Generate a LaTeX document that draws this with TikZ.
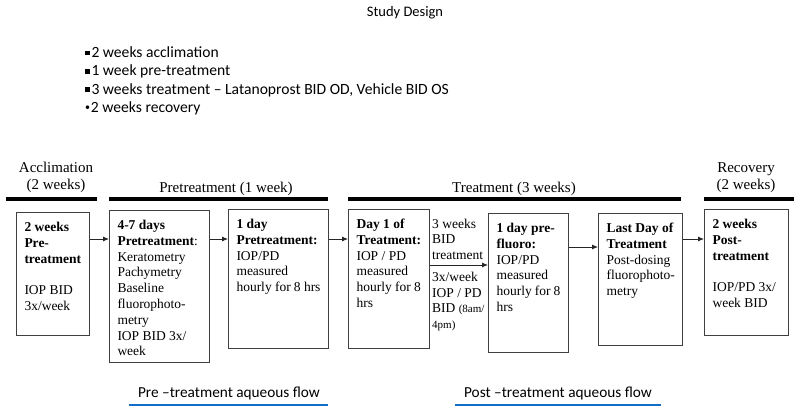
\documentclass[tikz,border=0pt]{standalone}
\usepackage{fontspec}
\setmainfont{Liberation Serif}
\newfontfamily\calfont{Carlito}
\usetikzlibrary{arrows.meta}
\newcommand{\bxt}[3]{\parbox[t][\dimexpr#2pt-16pt\relax][t]{\dimexpr#1pt-16pt\relax}{\raggedright\strut #3}}
\newcommand{\sqb}{\rule[2pt]{4.8pt}{4.8pt}\hspace{1.5pt}}
\definecolor{flowblue}{RGB}{20,110,200}
\begin{document}
\begin{tikzpicture}[x=1pt,y=-1pt,
  bx/.style={draw=black!75, line width=1pt, anchor=north west, inner xsep=8pt, inner ysep=8pt,
    font=\fontsize{13.5}{15.8}\selectfont},
  btxt/.style={anchor=base west, inner sep=0pt, font=\fontsize{13.5}{15.5}\selectfont},
  hdr/.style={anchor=base, inner sep=0pt, font=\fontsize{15}{17}\selectfont},
  bar/.style={line width=3.5pt, black},
  arr/.style={-{Latex[length=6pt,width=5pt]}, line width=0.8pt, black!85},
  cal/.style={inner sep=0pt, font=\calfont\fontsize{14.5}{18.3}\selectfont},
  lst/.style={inner sep=0pt, font=\calfont\fontsize{15.6}{18.3}\selectfont},
  flow/.style={inner sep=0pt, anchor=base, font=\calfont\fontsize{15.3}{18}\selectfont},
  blueline/.style={line width=2.5pt, flowblue}]
\useasboundingbox (0,0) rectangle (800,417);
\fill[white] (0,0) rectangle (800,417);

% title and list
\node[cal, anchor=base] (title) at (405,16.5) {Study Design};
\node[lst, anchor=base west] (list) at (85,57.5) {\parbox[t]{440pt}{%
\sqb 2 weeks acclimation\\
\sqb 1 week pre-treatment\\
\sqb 3 weeks treatment – Latanoprost BID OD, Vehicle BID OS\\
\hspace{0.5pt}\raisebox{1.8pt}{\fontsize{10}{10}\selectfont•}\hspace{0.8pt}2 weeks recovery}};

% headers
\node[hdr] (h1) at (56,172) {\parbox[t]{100pt}{\centering Acclimation\\(2 weeks)}};
\node[hdr] (h2) at (226,192) {Pretreatment (1 week)};
\node[hdr] (h3) at (514,192) {Treatment (3 weeks)};
\node[hdr] (h4) at (746,172) {\parbox[t]{100pt}{\centering Recovery\\(2 weeks)}};
\draw[bar] (6,199) -- (97,199);
\draw[bar] (109,199) -- (328,199);
\draw[bar] (348,199) -- (681,199);
\draw[bar] (704,199) -- (794,199);

% boxes
\node[bx] (b1) at (16,212) {\bxt{73}{123}{\textbf{2 weeks\\\mbox{Pre-}\\treatment}\\[15.8pt]IOP BID\\3x/week}};
\node[bx] (b2) at (109,210) {\bxt{100}{152}{\textbf{4-7 days\\Pretreatment}:\\Keratometry\\Pachymetry\\Baseline\\\mbox{fluorophoto-}\\metry\\IOP BID 3x/\\week}};
\node[bx] (b3) at (228,209) {\bxt{100}{139}{\textbf{1 day\\Pretreatment:}\\IOP/PD\\measured\\hourly for 8 hrs}};
\node[bx] (b4) at (348,209) {\bxt{81}{139}{\textbf{Day 1 of\\Treatment:}\\IOP / PD\\measured\\hourly for 8\\hrs}};
\node[bx] (b5) at (488,213) {\bxt{80}{139}{\textbf{1 day \mbox{pre-}\\fluoro:}\\IOP/PD\\measured\\hourly for 8\\hrs}};
\node[bx] (b6) at (598,213) {\bxt{84}{132}{\textbf{Last Day of\\Treatment}\\Post-dosing\\\mbox{fluorophoto-}\\metry}};
\node[bx] (b7) at (704,209) {\bxt{84}{126}{\textbf{2 weeks\\\mbox{Post-}\\treatment}\\[15.8pt]IOP/PD 3x/\\week BID}};

% between texts
\node[btxt] (t1) at (432,228) {\parbox[t]{60pt}{3 weeks\\BID\\treatment}};
\node[btxt] (t2) at (432,281.5) {\parbox[t]{60pt}{3x/week\\IOP / PD\\BID {\fontsize{11}{15.5}\selectfont(8am/}\\{\fontsize{11}{15.5}\selectfont 4pm)}}};

% arrows
\draw[arr] (b1.east |- 0,239) -- (b2.west |- 0,239);
\draw[arr] (b2.east |- 0,239) -- (b3.west |- 0,239);
\draw[arr] (b3.east |- 0,239) -- (b4.west |- 0,239);
\draw[arr] (b4.east |- 0,265) -- (b5.west |- 0,265);
\draw[arr] (b5.east |- 0,247) -- (b6.west |- 0,247);
\draw[arr] (b6.east |- 0,239) -- (b7.west |- 0,239);

% bottom labels
\node[flow] (f1) at (229,397.5) {Pre –treatment aqueous flow};
\node[flow] (f2) at (558,397.5) {Post –treatment aqueous flow};
\draw[blueline] (129,405) -- (328,405);
\draw[blueline] (455,405) -- (661,405);
\end{tikzpicture}
\end{document}
